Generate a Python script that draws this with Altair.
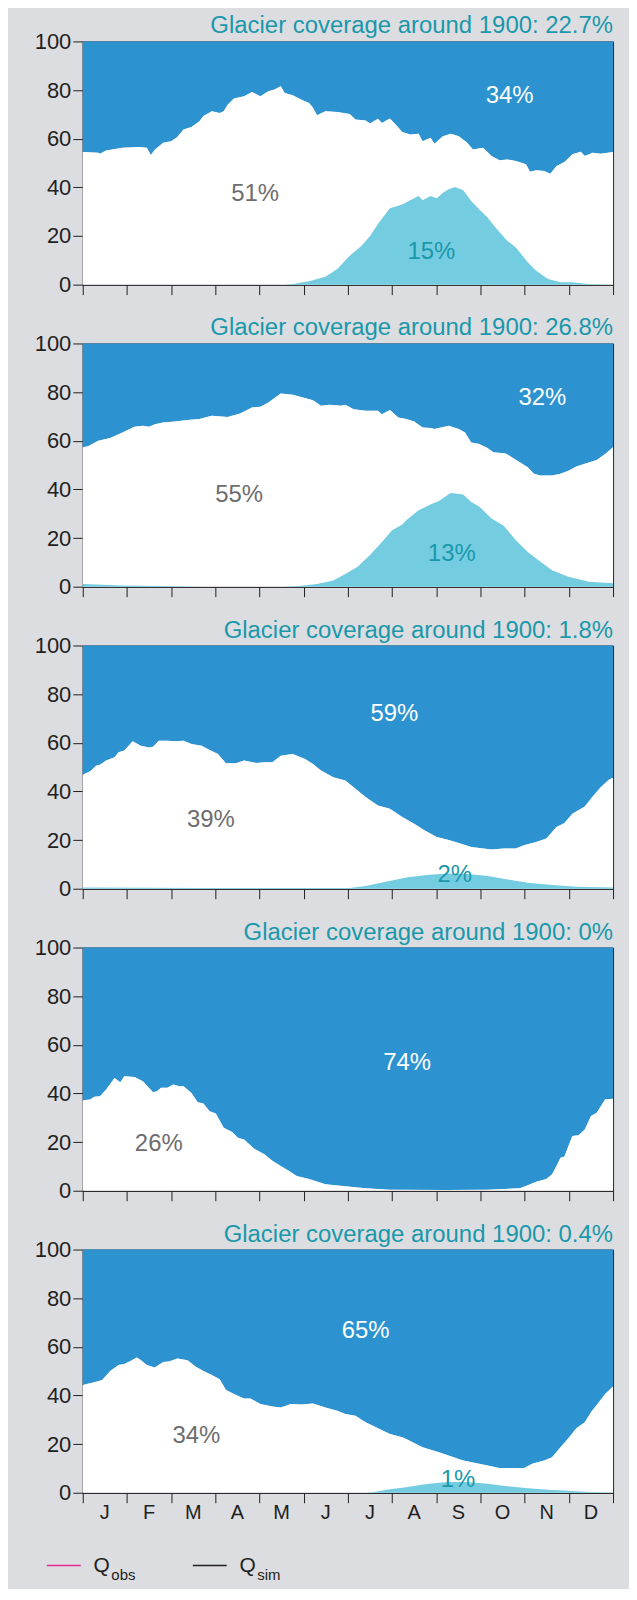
import altair as alt
import pandas as pd

FONT = "Liberation Sans"
BG = "#dcdde0"
BLUE = "#2c93d0"
CYAN = "#74cce0"
TEAL = "#1a98ab"
GREY = "#6d6d6f"
DARK = "#231f20"
PINK = "#e5288f"

MONTHS = ["J", "F", "M", "A", "M", "J", "J", "A", "S", "O", "N", "D"]
MONTH_POS = [0.5 + i for i in range(12)]
TITLES = [
    "Glacier coverage around 1900: 22.7%",
    "Glacier coverage around 1900: 26.8%",
    "Glacier coverage around 1900: 1.8%",
    "Glacier coverage around 1900: 0%",
    "Glacier coverage around 1900: 0.4%",
]

# ---- panel 1 ----
P1_TOP_X = [0, 0.35, 0.39, 0.53, 0.9, 1.27, 1.45, 1.54, 1.63, 1.82, 2.0, 2.14, 2.28, 2.46, 2.64,
            2.73, 2.92, 3.1, 3.19, 3.28, 3.42, 3.65, 3.83, 4.02, 4.2, 4.34, 4.48, 4.57, 4.75, 4.94,
            5.12, 5.21, 5.3, 5.49, 5.76, 6.04, 6.17, 6.4, 6.5, 6.68, 6.77, 6.95, 7.09, 7.23, 7.41,
            7.6, 7.69, 7.87, 7.96, 8.15, 8.33, 8.51, 8.7, 8.83, 9.06, 9.25, 9.43, 9.61, 9.8, 10.03,
            10.12, 10.26, 10.44, 10.58, 10.72, 10.9, 11.08, 11.27, 11.36, 11.54, 11.72, 12]
P1_TOP_Y = [54.5, 54.2, 53.8, 55.2, 56.3, 56.6, 56.3, 53.3, 55.5, 58.3, 59, 60.7, 63.8, 64.8, 67.2,
            69.3, 71.3, 70.6, 71.3, 74, 76.5, 77.5, 79.2, 77.5, 79.5, 80.2, 81.6, 78.8, 77.9, 76.1,
            74.7, 72.7, 69.7, 71.3, 71, 70.2, 67.9, 67.5, 66.3, 68.2, 66.5, 68.3, 65.6, 62.8, 61.7,
            62, 59, 60.4, 57.9, 61, 62, 61, 58.3, 55.6, 56.3, 52.9, 51.1, 51.5, 50.8, 49.5,
            46.4, 47, 46.7, 45.6, 48.8, 50.4, 53.6, 54.6, 52.9, 54.2, 53.8, 54.5]
P1_MELT_X = [0, 4.57, 4.75, 5.12, 5.49, 5.76, 6.04, 6.31, 6.5, 6.68, 6.82, 6.95, 7.23, 7.41, 7.6,
             7.69, 7.87, 8.01, 8.15, 8.28, 8.42, 8.61, 8.79, 8.97, 9.16, 9.34, 9.61, 9.8, 10.07,
             10.26, 10.53, 10.81, 11.08, 11.45, 12]
P1_MELT_Y = [0, 0, 0.3, 1.4, 3.3, 6.4, 11.9, 16, 20, 24.9, 28.3, 31.4, 33, 34.7, 36.5,
             34.7, 36.5, 35.5, 37.8, 39.2, 40.2, 38.8, 34.4, 31, 27.6, 23.5, 18, 15.3, 9.2,
             5.7, 2.3, 1, 1, 0.3, 0]

# ---- panel 2 ----
P2_TOP_X = [0, 0.12, 0.35, 0.62, 0.9, 1.17, 1.36, 1.5, 1.63, 1.82, 2.09, 2.37, 2.64, 2.92, 3.28,
            3.56, 3.83, 4.02, 4.2, 4.48, 4.75, 4.94, 5.21, 5.39, 5.58, 5.85, 5.94, 6.13, 6.4, 6.68,
            6.77, 6.95, 7.14, 7.32, 7.5, 7.69, 7.87, 7.96, 8.28, 8.51, 8.65, 8.79, 8.97, 9.16, 9.29,
            9.57, 9.71, 9.89, 10.07, 10.21, 10.35, 10.62, 10.81, 10.99, 11.17, 11.36, 11.63, 11.82, 12]
P2_TOP_Y = [57.3, 57.7, 60, 61.1, 63.4, 65.8, 66.2, 65.8, 66.8, 67.5, 67.9, 68.5, 68.9, 70.3, 69.8,
            71.2, 73.7, 74, 75.7, 79.4, 78.9, 78, 76.7, 74.4, 74.8, 74.4, 74.8, 73, 72.3, 72.3,
            70.9, 72.6, 69.6, 68.9, 67.9, 65.5, 65.2, 64.8, 66.2, 64.8, 63.4, 59.3, 58.7, 57, 55.3,
            54.8, 53.2, 51.2, 49.1, 46.4, 45.7, 45.7, 46.4, 47.7, 49.4, 50.5, 52.1, 54.6, 57.3]
P2_MELT_X = [0, 0.9, 1.82, 2.73, 4.57, 4.94, 5.3, 5.67, 5.94, 6.22, 6.5, 6.77, 7.0, 7.23, 7.32,
             7.6, 7.87, 8.06, 8.24, 8.33, 8.61, 8.79, 8.97, 9.25, 9.52, 9.8, 10.07, 10.26, 10.62,
             10.99, 11.45, 12]
P2_MELT_Y = [1.1, 0.5, 0.3, 0, 0, 0.4, 1.1, 2.5, 5.2, 8.2, 13, 18.4, 23.2, 25.6, 27.3,
             31.4, 33.8, 35.2, 37.5, 38.5, 37.9, 34.8, 33, 28, 25.2, 19.1, 14.3, 11.6, 6.8,
             4.1, 2, 1.4]

# ---- panel 3 ----
P3_TOP_X = [0, 0.17, 0.3, 0.39, 0.53, 0.72, 0.81, 0.94, 1.13, 1.31, 1.5, 1.59, 1.72, 1.91, 2.09,
            2.28, 2.46, 2.69, 2.87, 3.06, 3.24, 3.47, 3.65, 3.93, 4.11, 4.29, 4.48, 4.75, 5.03, 5.21,
            5.39, 5.67, 5.94, 6.13, 6.4, 6.68, 6.95, 7.23, 7.5, 7.73, 8.01, 8.24, 8.51, 8.79, 9.25,
            9.52, 9.8, 9.98, 10.26, 10.49, 10.72, 10.9, 11.08, 11.36, 11.54, 11.72, 11.91, 12]
P3_TOP_Y = [46.9, 48.3, 50.6, 51, 52.7, 54, 56.1, 56.8, 60.6, 58.8, 58.1, 58.4, 60.8, 60.8, 60.6,
            60.8, 59.5, 58.8, 57, 55.4, 51.6, 51.6, 52.7, 51.7, 52, 52, 54.7, 55.4, 53.3, 51.3,
            48.6, 45.8, 44.5, 41.7, 37.7, 34.2, 32.9, 29.5, 26.7, 24, 21.3, 20.2, 18.8, 17.2, 16.1,
            16.5, 16.5, 17.9, 19.2, 20.6, 25.4, 27, 30.8, 33.8, 37.9, 41.7, 44.9, 45.6]
P3_MELT_X = [0, 2.73, 6.04, 6.4, 6.86, 7.32, 7.78, 8.24, 8.7, 9.16, 9.61, 10.07, 10.62, 11.17, 12]
P3_MELT_Y = [0.5, 0.3, 0.3, 1.1, 2.9, 4.6, 5.6, 6.3, 6, 5.2, 3.8, 2.5, 1.5, 0.8, 0.5]

# ---- panel 4 ----
P4_TOP_X = [0, 0.17, 0.26, 0.39, 0.53, 0.72, 0.85, 0.94, 1.17, 1.36, 1.59, 1.68, 1.77, 1.91, 2.05,
            2.18, 2.28, 2.46, 2.6, 2.73, 2.87, 3.01, 3.19, 3.38, 3.51, 3.65, 3.88, 4.11, 4.29, 4.48,
            4.66, 4.84, 5.12, 5.49, 5.94, 6.4, 6.95, 8.24, 9.16, 9.89, 10.07, 10.26, 10.49, 10.62, 10.72,
            10.81, 10.9, 10.99, 11.08, 11.22, 11.36, 11.5, 11.63, 11.82, 12]
P4_TOP_Y = [37.2, 37.5, 38.6, 38.9, 41.6, 46.4, 44.6, 47.1, 46.8, 45, 40.5, 40.9, 42.3, 42.3, 43.7,
            43, 43, 40.2, 36.4, 35.9, 32.7, 31.8, 25.9, 24.1, 21.8, 21.1, 17.3, 15, 12.3, 10.2,
            8.2, 6.1, 4.8, 2.7, 1.8, 1, 0.4, 0.3, 0.4, 1, 2.3, 3.7, 4.8, 6.8, 10.2,
            13.6, 14.1, 18.4, 22.5, 22.8, 25.2, 30.7, 32.1, 37.5, 37.8]
P4_MELT_X = [0, 12]
P4_MELT_Y = [0, 0]

# ---- panel 5 ----
P5_TOP_X = [0, 0.26, 0.44, 0.62, 0.81, 0.94, 1.08, 1.22, 1.31, 1.45, 1.63, 1.82, 1.95, 2.14, 2.37,
            2.55, 2.73, 2.92, 3.1, 3.24, 3.47, 3.65, 3.79, 4.02, 4.29, 4.48, 4.71, 4.94, 5.21, 5.49,
            5.76, 5.94, 6.17, 6.4, 6.68, 6.95, 7.23, 7.32, 7.69, 8.06, 8.61, 9.16, 9.43, 9.71, 9.98,
            10.17, 10.44, 10.62, 10.81, 10.94, 11.17, 11.36, 11.5, 11.63, 11.82, 12]
P5_TOP_Y = [44.3, 45.4, 46.4, 50.1, 52.5, 52.9, 54.2, 55.6, 54.6, 52.5, 51.5, 53.8, 54, 55.2, 54.5,
            51.9, 50.1, 48.4, 46.7, 42.3, 40.2, 38.8, 38.8, 36.5, 35.5, 35.1, 36.5, 36.3, 36.7, 35.1,
            33.7, 32.4, 31.7, 29, 26.5, 24.2, 22.8, 22.1, 18.7, 16.7, 13.3, 11.2, 10.2, 10.2, 10.1,
            11.9, 13.3, 14.6, 18.7, 21.4, 26.5, 29, 33.1, 36.1, 40.6, 43.7]
P5_MELT_X = [0, 6.4, 6.59, 6.95, 7.32, 7.78, 8.24, 8.7, 9.16, 9.61, 10.07, 10.53, 10.99, 11.45, 12]
P5_MELT_Y = [0, 0, 0.3, 1.4, 2.3, 3.6, 4.4, 4.4, 3.7, 2.7, 1.9, 1.2, 0.8, 0.3, 0.1]

# ---- share labels: (text, month position, value, colour) ----
LABEL_TEXT = [["34%", "51%", "15%"], ["32%", "55%", "13%"], ["59%", "39%", "2%"],
              ["74%", "26%"], ["65%", "34%", "1%"]]
LABEL_X = [[9.66, 3.9, 7.89], [10.4, 3.54, 8.35], [7.05, 2.9, 8.42], [7.34, 1.72], [6.4, 2.57, 8.49]]
LABEL_Y = [[77.5, 37.4, 13.3], [77.5, 37.5, 13.6], [71.8, 28.1, 5.6], [52.5, 19.1], [66.5, 23.2, 5.05]]
LABEL_COLOR = ["white", GREY, TEAL]

TOPS = [(P1_TOP_X, P1_TOP_Y), (P2_TOP_X, P2_TOP_Y), (P3_TOP_X, P3_TOP_Y),
        (P4_TOP_X, P4_TOP_Y), (P5_TOP_X, P5_TOP_Y)]
MELTS = [(P1_MELT_X, P1_MELT_Y), (P2_MELT_X, P2_MELT_Y), (P3_MELT_X, P3_MELT_Y),
         (P4_MELT_X, P4_MELT_Y), (P5_MELT_X, P5_MELT_Y)]

LEGEND_NAMES = ["obs", "sim"]
LEGEND_COLORS = [PINK, DARK]

W, H = 532, 244


def panel(i, last):
    tx, ty = TOPS[i]
    mx, my = MELTS[i]
    assert len(tx) == len(ty) and len(mx) == len(my)
    top_df = pd.DataFrame({"m": tx, "v": ty})
    melt_df = pd.DataFrame({"m": mx, "v": my})
    lab_df = pd.DataFrame({"m": LABEL_X[i], "v": LABEL_Y[i], "t": LABEL_TEXT[i],
                           "c": LABEL_COLOR[:len(LABEL_TEXT[i])]})
    title_df = pd.DataFrame({"t": [TITLES[i]]})

    xaxis = alt.Axis(values=list(range(13)), tickSize=10, labels=False,
                     domainColor=DARK, tickColor=DARK, grid=False, title=None)
    yaxis = alt.Axis(values=[0, 20, 40, 60, 80, 100], tickSize=10, labelFontSize=22,
                     labelPadding=2, labelColor=DARK, labelFont=FONT, domainColor=DARK,
                     tickColor=DARK, grid=False, title=None)
    x = alt.X("m:Q", scale=alt.Scale(domain=[0, 12], nice=False, zero=False), axis=xaxis)
    y = alt.Y("v:Q", scale=alt.Scale(domain=[0, 100], nice=False), axis=yaxis)

    blue = alt.Chart(top_df).mark_area(color=BLUE, opacity=1).encode(x=x, y=y, y2=alt.Y2Datum(100))
    white = alt.Chart(top_df).mark_area(color="white", opacity=1).encode(x=x, y=y)
    cyan = alt.Chart(melt_df).mark_area(color=CYAN, opacity=1).encode(x=x, y=y)
    text = alt.Chart(lab_df).mark_text(fontSize=24, font=FONT, align="center",
                                       baseline="middle").encode(
        x=x, y=y, text="t:N", color=alt.Color("c:N", scale=None))
    title = alt.Chart(title_df).mark_text(fontSize=24, font=FONT, align="right",
                                          baseline="alphabetic", color=TEAL).encode(
        x=alt.value(W), y=alt.value(-8), text="t:N")
    layers = [blue, white, cyan, text, title]

    if last:
        mdf = pd.DataFrame({"m": MONTH_POS, "t": MONTHS})
        layers.append(alt.Chart(mdf).mark_text(fontSize=20, font=FONT, align="center",
                                               baseline="alphabetic", color=DARK).encode(
            x=x, y=alt.value(H + 26), text="t:N"))
        leg_df = pd.DataFrame({"name": LEGEND_NAMES, "col": LEGEND_COLORS})
        offsets = [0, 146.4]
        for k in range(2):
            one = leg_df.iloc[[k]]
            o = offsets[k]
            layers.append(alt.Chart(one).mark_rule(strokeWidth=1.5).encode(
                x=alt.value(-36 + o), x2=alt.value(-2 + o), y=alt.value(317),
                color=alt.Color("col:N", scale=None)))
            layers.append(alt.Chart(one).mark_text(text="Q", fontSize=21, font=FONT, align="left",
                                                   baseline="alphabetic", color=DARK).encode(
                x=alt.value(10.8 + o), y=alt.value(323)))
            layers.append(alt.Chart(one).mark_text(fontSize=15, font=FONT, align="left",
                                                   baseline="alphabetic", color=DARK).encode(
                x=alt.value(28.7 + o), y=alt.value(332), text="name:N"))

    return alt.layer(*layers).properties(width=W, height=H)


chart = alt.vconcat(*[panel(i, i == 4) for i in range(5)], spacing=19).properties(
    padding={"left": 25, "top": 3, "right": 15, "bottom": 2},
    background=BG,
).configure_view(stroke=DARK, strokeWidth=1).configure_axis(domainWidth=1, tickWidth=1)

chart.save("out.html", embed_options={"renderer": "svg", "actions": False})
